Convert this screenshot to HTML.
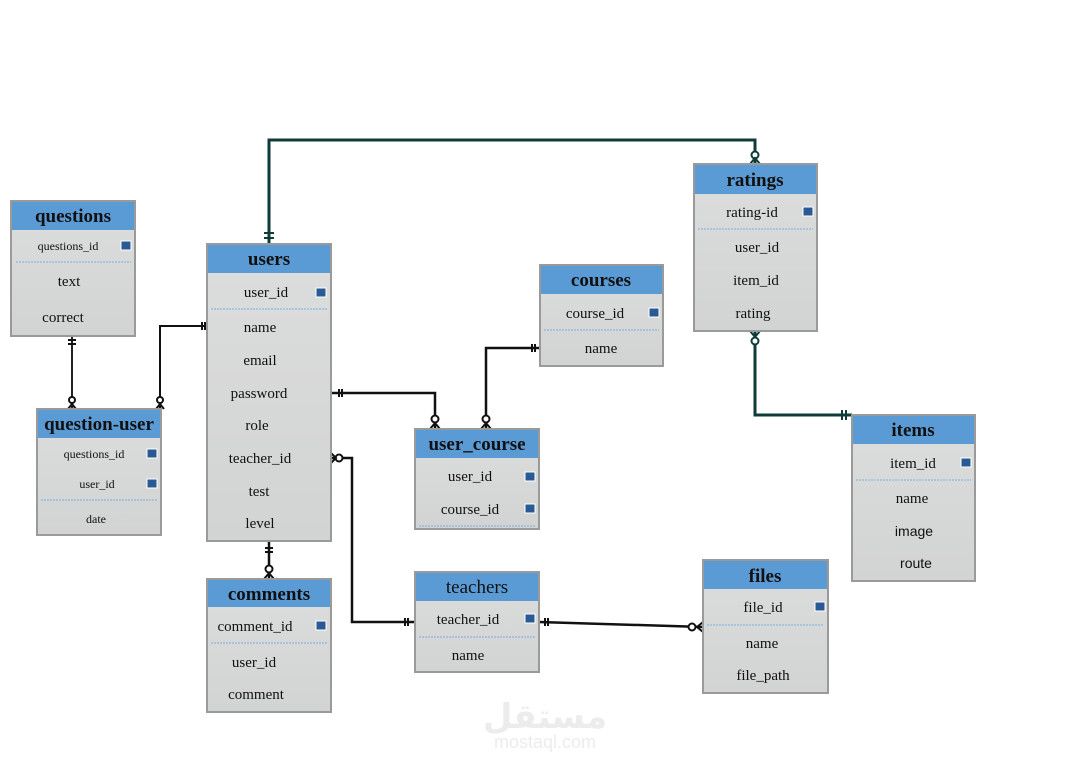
<!DOCTYPE html>
<html><head><meta charset="utf-8"><style>
html,body{margin:0;padding:0;background:#fff;}
svg{display:block;}
text{font-family:"Liberation Serif",serif;fill:#111;}
.h{font-weight:bold;font-size:19px;fill:#1c2430;}
.f{font-size:15px;}
.s{font-size:12px;}
.pk{fill:#2a5a94;stroke:#fff;stroke-width:1;}
</style></head><body>
<svg width="1091" height="768" viewBox="0 0 1091 768" xmlns="http://www.w3.org/2000/svg">
<defs>
<linearGradient id="bg" x1="0" y1="0" x2="0" y2="1"><stop offset="0" stop-color="#dcdddd"/><stop offset="1" stop-color="#d2d3d3"/></linearGradient>
</defs>

<!-- connectors -->
<g fill="none" stroke-linejoin="miter">
<path d="M269,244 V140 H755 V164" stroke="#0f3b3b" stroke-width="3"/>
<path d="M755,331 V415 H852" stroke="#0f3b3b" stroke-width="3"/>
<path d="M72,336 V409" stroke="#222" stroke-width="2"/>
<path d="M160,409 V326 H207" stroke="#111" stroke-width="2"/>
<path d="M331,393 H435 V429" stroke="#111" stroke-width="2.5"/>
<path d="M540,348 H486 V429" stroke="#111" stroke-width="2.5"/>
<path d="M331,458 H352 V622 H415" stroke="#111" stroke-width="2.5"/>
<path d="M539,622 L703,627" stroke="#111" stroke-width="2.5"/>
<path d="M269,541 V579" stroke="#111" stroke-width="2.5"/>
</g>
<!-- markers -->
<g stroke="#0f3b3b" stroke-width="2" fill="#fff">
<line x1="264" y1="233" x2="274" y2="233"/><line x1="264" y1="238" x2="274" y2="238"/>
<circle cx="755" cy="155" r="3.5"/><path d="M750,164 L755,158 L760,164" fill="none"/>
<circle cx="755" cy="341" r="3.5"/><path d="M750,331 L755,337 L760,331" fill="none"/>
<line x1="842" y1="410" x2="842" y2="420"/><line x1="846" y1="410" x2="846" y2="420"/>
</g>
<g stroke="#111" stroke-width="2" fill="#fff">
<line x1="68" y1="340" x2="76" y2="340"/><line x1="68" y1="344" x2="76" y2="344"/>
<circle cx="72" cy="400" r="3"/><path d="M68,409 L72,404 L76,409" fill="none"/>
<circle cx="160" cy="400" r="3"/><path d="M156,409 L160,404 L164,409" fill="none"/>
<line x1="202" y1="322" x2="202" y2="330"/><line x1="205" y1="322" x2="205" y2="330"/>
<line x1="339" y1="389" x2="339" y2="397"/><line x1="342" y1="389" x2="342" y2="397"/>
<circle cx="435" cy="419" r="3.5"/><path d="M430,429 L435,423 L440,429" fill="none"/>
<circle cx="486" cy="419" r="3.5"/><path d="M481,429 L486,423 L491,429" fill="none"/>
<line x1="532" y1="344" x2="532" y2="352"/><line x1="535" y1="344" x2="535" y2="352"/>
<circle cx="339" cy="458" r="3.5"/><path d="M331,453 L336,458 L331,463" fill="none"/>
<line x1="405" y1="618" x2="405" y2="626"/><line x1="408" y1="618" x2="408" y2="626"/>
<line x1="545" y1="618" x2="545" y2="626"/><line x1="548" y1="618" x2="548" y2="626"/>
<circle cx="692" cy="627" r="3.5"/><path d="M703,622 L697,627 L703,632" fill="none"/>
<line x1="265" y1="548" x2="273" y2="548"/><line x1="265" y1="552" x2="273" y2="552"/>
<circle cx="269" cy="569" r="3.5"/><path d="M264,579 L269,573 L274,579" fill="none"/>
</g>

<!-- tables -->
<g stroke="#9a9a9a" stroke-width="2">
<rect x="11" y="201" width="124" height="135" fill="url(#bg)"/>
<rect x="37" y="409" width="124" height="126" fill="url(#bg)"/>
<rect x="207" y="244" width="124" height="297" fill="url(#bg)"/>
<rect x="207" y="579" width="124" height="133" fill="url(#bg)"/>
<rect x="540" y="265" width="123" height="101" fill="url(#bg)"/>
<rect x="415" y="429" width="124" height="100" fill="url(#bg)"/>
<rect x="415" y="572" width="124" height="100" fill="url(#bg)"/>
<rect x="694" y="164" width="123" height="167" fill="url(#bg)"/>
<rect x="852" y="415" width="123" height="166" fill="url(#bg)"/>
<rect x="703" y="560" width="125" height="133" fill="url(#bg)"/>
</g>
<g fill="#5b9bd5">
<rect x="12" y="202" width="122" height="28"/>
<rect x="38" y="410" width="122" height="28"/>
<rect x="208" y="245" width="122" height="28"/>
<rect x="208" y="580" width="122" height="27"/>
<rect x="541" y="266" width="121" height="28"/>
<rect x="416" y="430" width="122" height="28"/>
<rect x="416" y="573" width="122" height="28"/>
<rect x="695" y="165" width="121" height="29"/>
<rect x="853" y="416" width="121" height="28"/>
<rect x="704" y="561" width="123" height="28"/>
</g>
<!-- separators -->
<g stroke="#7aaede" stroke-width="1" stroke-dasharray="2,1">
<line x1="16" y1="262" x2="131" y2="262"/>
<line x1="41" y1="500" x2="157" y2="500"/>
<line x1="211" y1="309" x2="327" y2="309"/>
<line x1="211" y1="643" x2="327" y2="643"/>
<line x1="544" y1="330" x2="659" y2="330"/>
<line x1="419" y1="526" x2="535" y2="526"/>
<line x1="419" y1="637" x2="535" y2="637"/>
<line x1="698" y1="229" x2="813" y2="229"/>
<line x1="856" y1="480" x2="971" y2="480"/>
<line x1="707" y1="625" x2="824" y2="625"/>
</g>
<!-- PK badges -->
<g class="pk">
<rect x="121" y="241" width="10" height="9"/>
<rect x="147" y="449" width="10" height="9"/>
<rect x="147" y="479" width="10" height="9"/>
<rect x="316" y="288" width="10" height="9"/>
<rect x="316" y="621" width="10" height="9"/>
<rect x="649" y="308" width="10" height="9"/>
<rect x="525" y="472" width="10" height="9"/>
<rect x="525" y="504" width="10" height="9"/>
<rect x="525" y="614" width="10" height="9"/>
<rect x="803" y="207" width="10" height="9"/>
<rect x="961" y="458" width="10" height="9"/>
<rect x="815" y="602" width="10" height="9"/>
</g>

<!-- headers -->
<g class="h" text-anchor="middle">
<text x="73" y="222">questions</text>
<text x="99" y="430">question-user</text>
<text x="269" y="265">users</text>
<text x="269" y="600">comments</text>
<text x="601" y="286">courses</text>
<text x="477" y="450">user_course</text>
<text x="477" y="593" style="font-weight:normal">teachers</text>
<text x="755" y="186">ratings</text>
<text x="913" y="436">items</text>
<text x="765" y="582">files</text>
</g>

<!-- fields -->
<g class="f" text-anchor="middle">
<text x="69" y="286">text</text>
<text x="63" y="322">correct</text>
<text x="266" y="297">user_id</text>
<text x="260" y="332">name</text>
<text x="260" y="365">email</text>
<text x="259" y="398">password</text>
<text x="257" y="430">role</text>
<text x="260" y="463">teacher_id</text>
<text x="259" y="496">test</text>
<text x="260" y="528">level</text>
<text x="255" y="631">comment_id</text>
<text x="254" y="667">user_id</text>
<text x="256" y="699">comment</text>
<text x="595" y="318">course_id</text>
<text x="601" y="353">name</text>
<text x="470" y="481">user_id</text>
<text x="470" y="514">course_id</text>
<text x="468" y="624">teacher_id</text>
<text x="468" y="660">name</text>
<text x="752" y="217">rating-id</text>
<text x="757" y="252">user_id</text>
<text x="756" y="285">item_id</text>
<text x="753" y="318">rating</text>
<text x="913" y="468">item_id</text>
<text x="912" y="503">name</text>
<text x="914" y="536" style="font-family:'Liberation Sans',sans-serif;font-size:14px">image</text>
<text x="916" y="568" style="font-family:'Liberation Sans',sans-serif;font-size:14px">route</text>
<text x="763" y="612">file_id</text>
<text x="762" y="648">name</text>
<text x="763" y="680">file_path</text>
</g>
<g class="s" text-anchor="middle">
<text x="68" y="250">questions_id</text>
<text x="94" y="458">questions_id</text>
<text x="97" y="488">user_id</text>
<text x="96" y="523">date</text>
</g>

<!-- watermark -->
<text x="545" y="728" text-anchor="middle" style="font-family:'Liberation Sans','DejaVu Sans',sans-serif;font-size:34px;font-weight:bold;fill:#ececec">مستقل</text>
<text x="545" y="748" text-anchor="middle" style="font-family:'Liberation Sans',sans-serif;font-size:18px;fill:#ececec">mostaql.com</text>
</svg>
</body></html>
